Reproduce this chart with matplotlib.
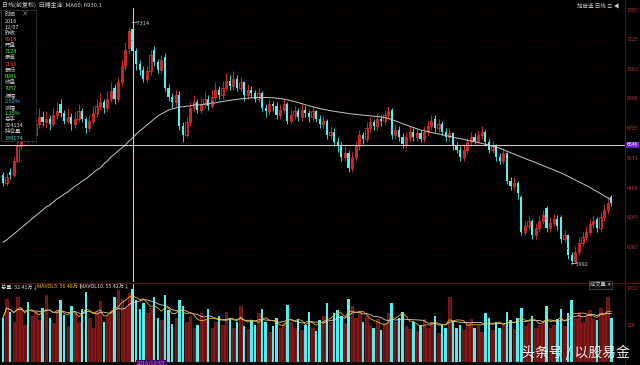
import matplotlib
matplotlib.use("Agg")
import matplotlib.pyplot as plt
import numpy as np
import pandas as pd

plt.rcParams['font.family'] = ['Noto Sans CJK SC', 'DejaVu Sans']

# daily bars, white sugar continuous contract
opens = [
    6480, 6440, 6500, 6480, 6560, 6640, 6700, 6730, 6680, 6700,
    6760, 6800, 6770, 6790, 6760, 6810, 6870, 6820, 6780, 6800,
    6760, 6790, 6830, 6790, 6740, 6780, 6820, 6860, 6880, 6850,
    6900, 6960, 6900, 6990, 7080, 7180, 7280, 7160, 7090, 7060,
    7010, 7050, 7170, 7100, 7060, 7130, 6960, 6910, 6880, 6920,
    6750, 6700, 6770, 6850, 6880, 6840, 6870, 6900, 6860, 6910,
    6950, 6920, 6960, 7000, 6970, 7010, 6960, 6990, 6920, 6950,
    6930, 6900, 6930, 6850, 6830, 6870, 6860, 6810, 6840, 6870,
    6780, 6810, 6830, 6800, 6840, 6820, 6800, 6830, 6790, 6760,
    6780, 6700, 6720, 6660, 6640, 6580, 6600, 6520, 6580, 6640,
    6700, 6680, 6740, 6770, 6750, 6790, 6780, 6810, 6840, 6700,
    6730, 6690, 6650, 6690, 6720, 6690, 6710, 6680, 6720, 6750,
    6790, 6740, 6760, 6720, 6690, 6710, 6640, 6620, 6580, 6620,
    6660, 6690, 6670, 6700, 6720, 6660, 6620, 6640, 6580, 6560,
    6600, 6450, 6420, 6440, 6360, 6170, 6200, 6230, 6150, 6190,
    6230, 6300, 6190, 6220, 6240, 6250, 6130, 6150, 6040, 6010,
    6060, 6110, 6140, 6170, 6210, 6240, 6190, 6250, 6290, 6360]
closes = [
    6440, 6470, 6480, 6560, 6640, 6700, 6740, 6680, 6700, 6760,
    6800, 6770, 6790, 6760, 6810, 6830, 6820, 6780, 6800, 6760,
    6790, 6830, 6790, 6740, 6780, 6820, 6860, 6880, 6850, 6900,
    6940, 6900, 6990, 7080, 7170, 7270, 7160, 7090, 7060, 7010,
    7050, 7140, 7100, 7060, 7110, 6960, 6910, 6880, 6920, 6750,
    6700, 6770, 6850, 6880, 6840, 6870, 6900, 6860, 6910, 6950,
    6920, 6960, 7000, 6970, 7010, 6960, 6990, 6920, 6950, 6930,
    6900, 6930, 6850, 6830, 6870, 6860, 6810, 6840, 6870, 6780,
    6810, 6830, 6800, 6840, 6820, 6800, 6830, 6790, 6760, 6780,
    6700, 6720, 6660, 6640, 6580, 6600, 6520, 6580, 6640, 6700,
    6680, 6740, 6770, 6750, 6790, 6780, 6810, 6830, 6700, 6730,
    6690, 6650, 6690, 6720, 6690, 6710, 6680, 6720, 6750, 6780,
    6740, 6760, 6720, 6690, 6710, 6640, 6620, 6580, 6620, 6660,
    6690, 6670, 6700, 6720, 6660, 6620, 6640, 6580, 6560, 6600,
    6450, 6420, 6440, 6380, 6170, 6200, 6230, 6150, 6190, 6230,
    6260, 6190, 6220, 6240, 6200, 6130, 6150, 6040, 6010, 6060,
    6110, 6140, 6170, 6210, 6230, 6190, 6250, 6290, 6330, 6330]
highs = [
    6500, 6490, 6520, 6580, 6660, 6730, 6790, 6750, 6740, 6790,
    6850, 6830, 6830, 6810, 6850, 6880, 6900, 6840, 6850, 6820,
    6830, 6870, 6850, 6800, 6810, 6860, 6900, 6930, 6900, 6940,
    6990, 6980, 7020, 7120, 7210, 7290, 7314, 7180, 7110, 7080,
    7080, 7170, 7190, 7120, 7140, 7150, 6980, 6930, 6950, 6940,
    6770, 6800, 6880, 6920, 6900, 6910, 6940, 6920, 6950, 6990,
    6970, 7000, 7040, 7030, 7050, 7030, 7020, 7000, 6980, 6970,
    6950, 6960, 6940, 6870, 6900, 6890, 6880, 6870, 6900, 6880,
    6840, 6860, 6850, 6870, 6860, 6840, 6860, 6840, 6810, 6810,
    6790, 6750, 6740, 6690, 6660, 6640, 6620, 6610, 6670, 6730,
    6720, 6770, 6800, 6790, 6820, 6810, 6840, 6860, 6850, 6760,
    6750, 6710, 6720, 6750, 6740, 6740, 6730, 6750, 6780, 6810,
    6810, 6790, 6780, 6740, 6740, 6720, 6660, 6640, 6650, 6690,
    6720, 6710, 6730, 6750, 6730, 6680, 6670, 6650, 6600, 6630,
    6610, 6470, 6470, 6450, 6370, 6230, 6260, 6240, 6220, 6260,
    6290, 6310, 6250, 6270, 6260, 6260, 6180, 6160, 6060, 6090,
    6140, 6170, 6200, 6240, 6260, 6250, 6280, 6320, 6360, 6370]
lows = [
    6420, 6420, 6460, 6470, 6550, 6620, 6690, 6660, 6660, 6690,
    6740, 6750, 6740, 6730, 6750, 6790, 6800, 6760, 6760, 6730,
    6740, 6770, 6770, 6710, 6720, 6760, 6800, 6840, 6820, 6830,
    6880, 6870, 6890, 6970, 7060, 7150, 7140, 7060, 7030, 6990,
    6990, 7030, 7080, 7040, 7040, 6940, 6890, 6850, 6860, 6730,
    6660, 6690, 6750, 6830, 6820, 6820, 6850, 6840, 6850, 6890,
    6900, 6900, 6940, 6950, 6950, 6940, 6940, 6890, 6900, 6910,
    6880, 6880, 6830, 6800, 6810, 6830, 6790, 6790, 6820, 6760,
    6760, 6790, 6780, 6780, 6800, 6770, 6780, 6770, 6740, 6740,
    6680, 6680, 6640, 6610, 6560, 6560, 6500, 6500, 6560, 6620,
    6650, 6660, 6720, 6730, 6730, 6750, 6760, 6790, 6680, 6680,
    6670, 6630, 6630, 6670, 6670, 6670, 6660, 6660, 6700, 6730,
    6720, 6720, 6700, 6670, 6670, 6620, 6600, 6560, 6560, 6600,
    6640, 6650, 6650, 6680, 6640, 6600, 6600, 6560, 6540, 6540,
    6430, 6400, 6400, 6350, 6150, 6150, 6180, 6130, 6130, 6170,
    6210, 6170, 6170, 6200, 6180, 6110, 6110, 6020, 5992, 6000,
    6040, 6090, 6120, 6150, 6190, 6170, 6170, 6230, 6270, 6310]
ma60 = [
    6113, 6124, 6141, 6157, 6174, 6190, 6207, 6223, 6240, 6256,
    6273, 6289, 6306, 6317, 6333, 6350, 6361, 6377, 6388, 6404,
    6421, 6432, 6448, 6459, 6476, 6492, 6509, 6520, 6542, 6558,
    6580, 6597, 6613, 6630, 6646, 6668, 6684, 6706, 6723, 6739,
    6756, 6772, 6789, 6805, 6816, 6827, 6838, 6844, 6849, 6855,
    6855, 6860, 6860, 6866, 6866, 6866, 6871, 6871, 6877, 6877,
    6882, 6885, 6888, 6891, 6894, 6897, 6899, 6901, 6903, 6905,
    6906, 6907, 6907, 6907, 6906, 6905, 6903, 6901, 6898, 6894,
    6889, 6884, 6879, 6873, 6867, 6861, 6856, 6851, 6846, 6842,
    6838, 6834, 6831, 6828, 6825, 6822, 6819, 6816, 6814, 6812,
    6810, 6808, 6806, 6804, 6802, 6800, 6797, 6792, 6786, 6779,
    6771, 6763, 6756, 6749, 6742, 6735, 6728, 6724, 6720, 6715,
    6711, 6707, 6702, 6698, 6694, 6689, 6685, 6681, 6677, 6672,
    6668, 6664, 6659, 6655, 6650, 6645, 6640, 6635, 6628, 6620,
    6612, 6604, 6596, 6588, 6580, 6572, 6564, 6557, 6549, 6541,
    6533, 6525, 6517, 6509, 6501, 6493, 6484, 6474, 6464, 6454,
    6444, 6434, 6424, 6414, 6402, 6391, 6379, 6367, 6356, 6344]
volumes = [
    620, 880, 700, 560, 900, 760, 520, 830, 640, 700,
    590, 760, 940, 610, 540, 720, 860, 650, 500, 780,
    690, 560, 740, 980, 620, 480, 700, 850, 560, 640,
    720, 910, 1010, 880, 760, 960, 1020, 870, 740, 820,
    690, 760, 900, 610, 580, 940, 720, 530, 610, 870,
    780, 560, 640, 470, 520, 690, 600, 740, 480, 560,
    640, 520, 700, 610, 480, 560, 780, 500, 460, 590,
    520, 680, 740, 560, 420, 500, 620, 470, 540, 800,
    560, 480, 600, 450, 520, 700, 470, 430, 580, 640,
    820, 560, 690, 720, 640, 540, 880, 780, 620, 700,
    560, 640, 520, 480, 600, 450, 540, 680, 820, 560,
    620, 700, 500, 460, 560, 430, 520, 600, 480, 560,
    640, 410, 520, 480, 900, 560, 470, 520, 440, 560,
    600, 480, 520, 420, 690, 620, 440, 560, 480, 520,
    700, 580, 460, 620, 760, 500, 540, 640, 470, 520,
    560, 780, 480, 520, 600, 740, 500, 680, 860, 620,
    700, 560, 640, 720, 600, 580, 760, 680, 900, 620]

price_ticks = [7387, 7225, 7061, 6899, 6735, 6573, 6409, 6247, 6083]
vol_ticks = [1032, 516]
info_rows = [('时间', '#c8c8c8'), ('2016', '#e0e0e0'), ('12/07', '#e0e0e0'),
             ('昨收', '#c8c8c8'), ('6918', '#ff4040'), ('开盘', '#c8c8c8'),
             ('7128', '#40ff40'), ('最高', '#c8c8c8'), ('7166', '#ff4040'),
             ('最低', '#c8c8c8'), ('6981', '#40ff40'), ('收盘', '#c8c8c8'),
             ('7057', '#40ff40'), ('振幅', '#c8c8c8'), ('2.59%', '#40c0ff'),
             ('涨幅', '#c8c8c8'), ('1.25%', '#40ff40'), ('总手', '#c8c8c8'),
             ('324134', '#e0e0e0'), ('持仓量', '#c8c8c8'), ('339174', '#40e0e0')]
cross_i = 36
cross_price = 6646

W, H = 640, 365
RED = '#e83030'
CYAN = '#50f0f0'
AXRED = '#5a1010'

fig = plt.figure(figsize=(6.4, 3.65), dpi=100, facecolor='black')


def fx(x):
    return x / W


def fy(y):
    return 1 - y / H


ax = fig.add_axes([0, fy(282), 625 / W, 274 / H])
vax = fig.add_axes([0, fy(362), 625 / W, 78 / H])
for a in (ax, vax):
    a.set_facecolor('black')
    for s in a.spines.values():
        s.set_visible(False)
    a.set_xticks([])
    a.set_yticks([])
    a.set_xlim(-0.83, 172.8)

o = np.array(opens)
c = np.array(closes)
x = np.arange(len(o))
up = c >= o
dn = ~up

ax.set_ylim(5894, 7398)
for p in price_ticks:
    ax.axhline(p, color='#3a0808', lw=0.5, ls=(0, (1, 2)))
    ax.text(1.003, p, str(p), transform=ax.get_yaxis_transform(),
            color='#c03838', fontsize=3.8, va='center', ha='left')

wick_colors = np.where(up, RED, CYAN)
ax.vlines(x, lows, highs, colors=wick_colors, lw=0.6)
ax.bar(x[up], (c - o)[up], bottom=o[up], width=0.62,
       facecolor='black', edgecolor=RED, lw=0.6)
ax.bar(x[dn], (o - c)[dn], bottom=c[dn], width=0.62, color=CYAN, lw=0)
ax.plot(x, ma60, color='#c8c8c8', lw=0.7)

# crosshair
ax.axvline(cross_i, color='#d8d8d8', lw=0.7)
vax.axvline(cross_i, color='#d8d8d8', lw=0.7)
ax.axhline(cross_price, color='#d8d8d8', lw=0.7)
ax.text(1.003, cross_price, str(cross_price), transform=ax.get_yaxis_transform(),
        color='white', fontsize=3.8, va='center', ha='left',
        bbox=dict(facecolor='#6a20c8', edgecolor='none', pad=0.6))

hi_i = int(np.argmax(highs))
lo_i = int(np.argmin(lows))
ax.text(hi_i - 0.3, highs[hi_i], '←' + str(highs[hi_i]), color='#d0d0d0',
        fontsize=4.0, va='center', ha='left')
ax.text(lo_i - 0.3, lows[lo_i], '←' + str(lows[lo_i]), color='#d0d0d0',
        fontsize=4.0, va='center', ha='left')

# volume panel
vol = np.array(volumes)
vax.set_ylim(0, 1088)
vax.bar(x[up], vol[up], width=0.7, facecolor='#6a1010', edgecolor='#c02828', lw=0.4)
vax.bar(x[dn], vol[dn], width=0.7, color=CYAN, lw=0)
mv5 = pd.Series(volumes).rolling(5, min_periods=1).mean()
mv10 = pd.Series(volumes).rolling(10, min_periods=1).mean()
vax.plot(x, mv10, color='#e0d0c8', lw=0.6)
vax.plot(x, mv5, color='#e8b820', lw=0.6)
for v in vol_ticks:
    vax.text(1.003, v, str(v), transform=vax.get_yaxis_transform(),
             color='#c03838', fontsize=3.8, va='center', ha='left')

# frame lines
fig.add_artist(plt.Line2D([fx(625), fx(625)], [0, 1], color=AXRED, lw=0.8))
fig.add_artist(plt.Line2D([0, 1], [fy(283), fy(283)], color=AXRED, lw=0.8))

# headers
fig.text(fx(2), fy(5), '日线(前复权)  白糖主连  MA60: 6930.1', color='#d0d0d0',
         fontsize=4.3, va='center')
fig.text(fx(577), fy(6), '加自选 日线 ≡ ◀', color='#d0d0d0', fontsize=4.0,
         va='center')
fig.text(fx(1), fy(287), '总量: 32.41万↓', color='#e0e0e0', fontsize=3.8, va='center')
fig.text(fx(37), fy(287), 'MAVOL5: 56.48万↓', color='#e8c020', fontsize=3.8, va='center')
fig.text(fx(80), fy(287), 'MAVOL10: 55.42万↓', color='#e0e0e0', fontsize=3.8, va='center')
fig.text(fx(590), fy(285), '成交量  ▾', color='#d0d0d0', fontsize=3.8, va='center',
         bbox=dict(facecolor='#0c0c0c', edgecolor='#505050', lw=0.5, pad=1))

# left info panel
fig.add_artist(plt.Rectangle((fx(1), fy(141)), fx(35), 131 / H, facecolor='black',
                             edgecolor='#404040', lw=0.5))
fig.text(fx(22), fy(13), '×', color='#c0c0c0', fontsize=4.5, va='center')
for k, (t, col) in enumerate(info_rows):
    fig.text(fx(5), fy(15 + k * 6.15), t, color=col, fontsize=4.0, va='center')

# bottom date tag and watermark
fig.text(fx(137), fy(363), '2016/12/07', color='#ff50ff', fontsize=4.0, va='center',
         bbox=dict(facecolor='#3a0a5a', edgecolor='none', pad=0.5))
fig.text(fx(521), fy(352), '头条号 / 以股易金', color='white', fontsize=10,
         va='center', alpha=0.92)

fig.savefig('out.png', dpi=100, facecolor='black')
